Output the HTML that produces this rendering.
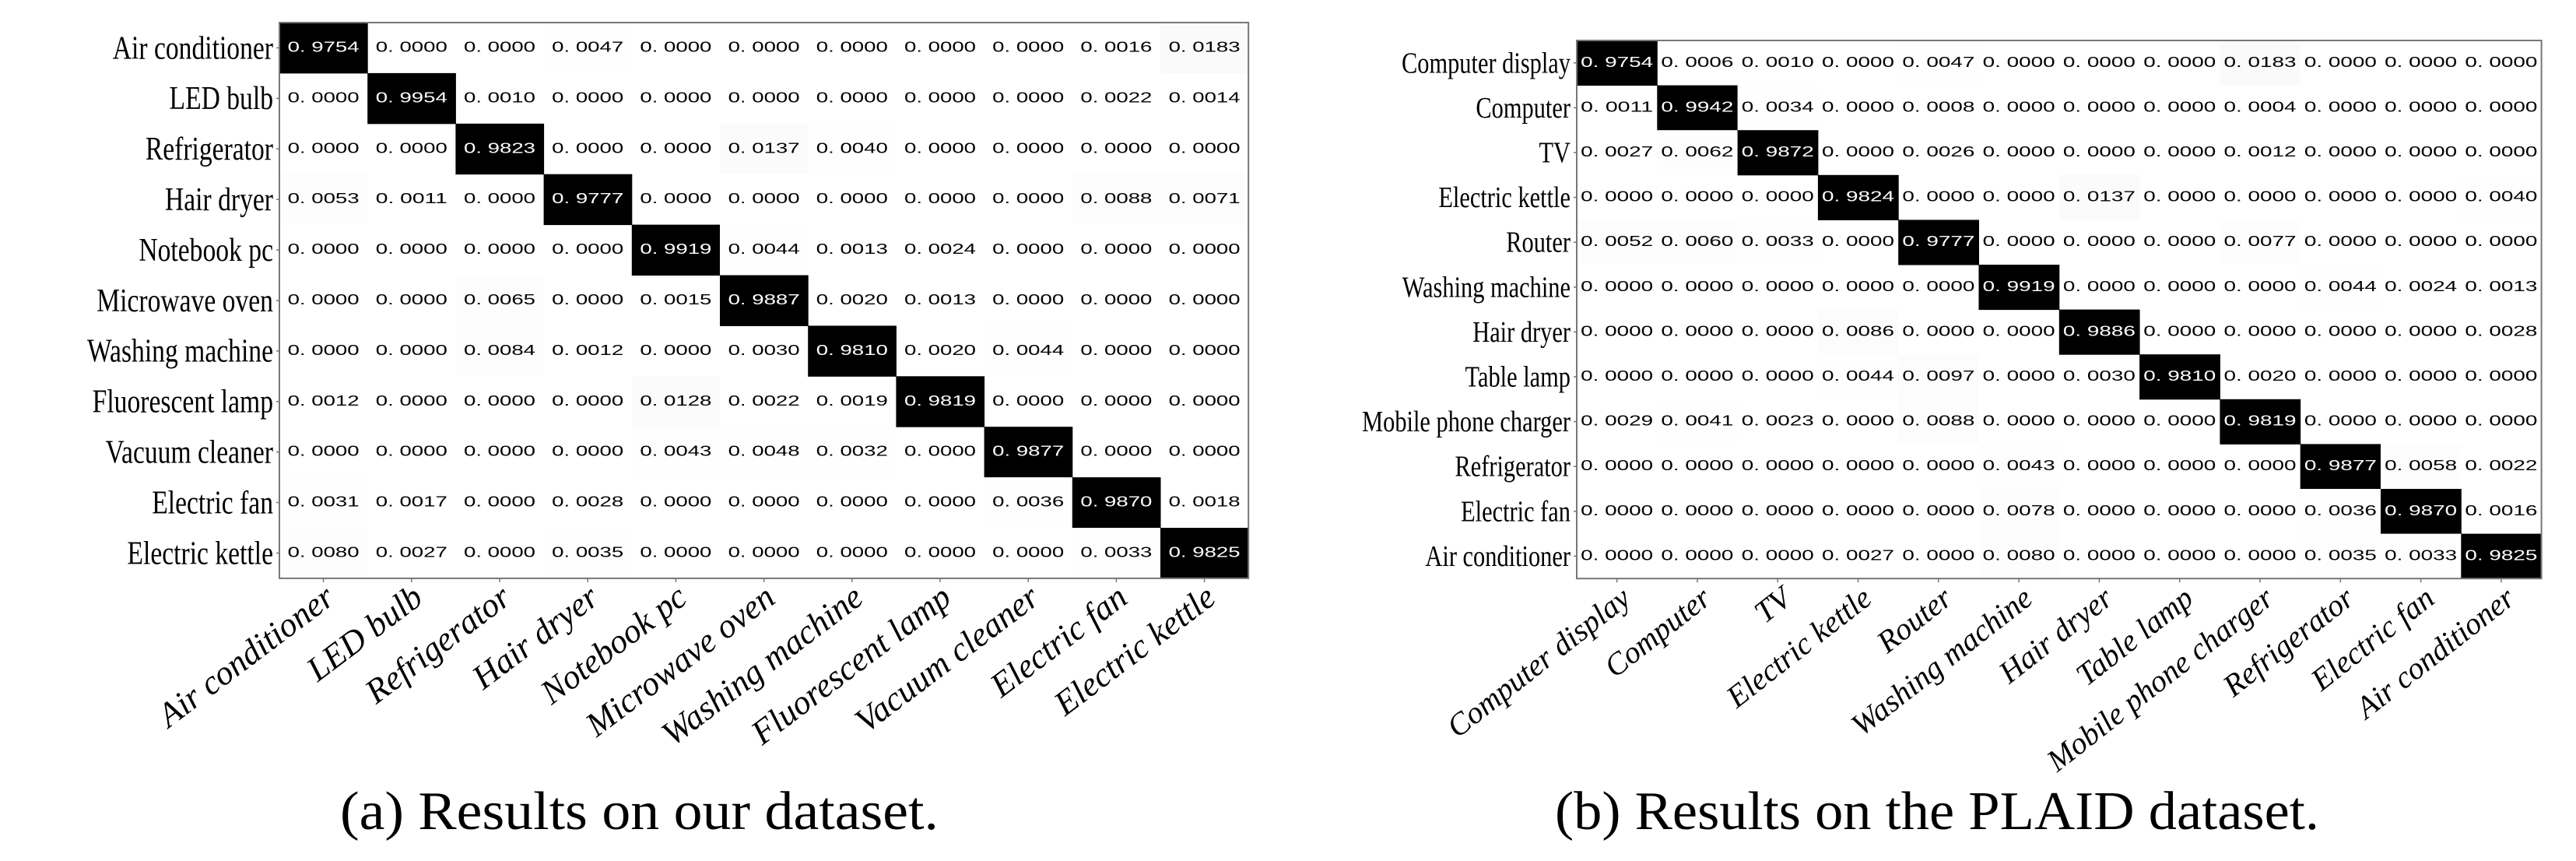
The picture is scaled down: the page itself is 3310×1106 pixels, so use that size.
<!DOCTYPE html>
<html><head><meta charset="utf-8"><style>
html,body{margin:0;padding:0;background:#fff;}
svg{display:block;}
</style></head><body>
<svg id="s" xmlns="http://www.w3.org/2000/svg" width="3310" height="1106" viewBox="0 0 3310 1106">
<rect width="3310" height="1106" fill="#fff"/>
<g id="g"></g>
<text x="437" y="1065" font-family="Liberation Serif, serif" font-size="70" textLength="769" lengthAdjust="spacingAndGlyphs">(a)  Results on our dataset.</text>
<text x="1998" y="1065" font-family="Liberation Serif, serif" font-size="70" textLength="982" lengthAdjust="spacingAndGlyphs">(b)  Results on the PLAID dataset.</text>
</svg>
<script>
var NS="http://www.w3.org/2000/svg";
var g=document.getElementById('g');
function el(t,a,txt){var e=document.createElementNS(NS,t);for(var k in a)e.setAttribute(k,a[k]);if(txt!=null)e.textContent=txt;g.appendChild(e);return e;}
function f(v){return "0. "+("0000"+Math.round(v*10000)).slice(-4);}
var L={x:359,y:29,w:113.2,h:64.9,labels:["Air conditioner","LED bulb","Refrigerator","Hair dryer","Notebook pc","Microwave oven","Washing machine","Fluorescent lamp","Vacuum cleaner","Electric fan","Electric kettle"],
d:[[.9754,0,0,.0047,0,0,0,0,0,.0016,.0183],
[0,.9954,.0010,0,0,0,0,0,0,.0022,.0014],
[0,0,.9823,0,0,.0137,.0040,0,0,0,0],
[.0053,.0011,0,.9777,0,0,0,0,0,.0088,.0071],
[0,0,0,0,.9919,.0044,.0013,.0024,0,0,0],
[0,0,.0065,0,.0015,.9887,.0020,.0013,0,0,0],
[0,0,.0084,.0012,0,.0030,.9810,.0020,.0044,0,0],
[.0012,0,0,0,.0128,.0022,.0019,.9819,0,0,0],
[0,0,0,0,.0043,.0048,.0032,0,.9877,0,0],
[.0031,.0017,0,.0028,0,0,0,0,.0036,.9870,.0018],
[.0080,.0027,0,.0035,0,0,0,0,0,.0033,.9825]],
fs:42,nf:18,nl:92,xf:44,ang:37,ax:17,ay:30};
var R={x:2026,y:52,w:103.3,h:57.6,labels:["Computer display","Computer","TV","Electric kettle","Router","Washing machine","Hair dryer","Table lamp","Mobile phone charger","Refrigerator","Electric fan","Air conditioner"],
d:[[.9754,.0006,.0010,0,.0047,0,0,0,.0183,0,0,0],
[.0011,.9942,.0034,0,.0008,0,0,0,.0004,0,0,0],
[.0027,.0062,.9872,0,.0026,0,0,0,.0012,0,0,0],
[0,0,0,.9824,0,0,.0137,0,0,0,0,.0040],
[.0052,.0060,.0033,0,.9777,0,0,0,.0077,0,0,0],
[0,0,0,0,0,.9919,0,0,0,.0044,.0024,.0013],
[0,0,0,.0086,0,0,.9886,0,0,0,0,.0028],
[0,0,0,.0044,.0097,0,.0030,.9810,.0020,0,0,0],
[.0029,.0041,.0023,0,.0088,0,0,0,.9819,0,0,0],
[0,0,0,0,0,.0043,0,0,0,.9877,.0058,.0022],
[0,0,0,0,0,.0078,0,0,0,.0036,.9870,.0016],
[0,0,0,.0027,0,.0080,0,0,0,.0035,.0033,.9825]],
fs:38,nf:18,nl:93,xf:40,ang:38,ax:20,ay:30};
function draw(M){
 var n=M.labels.length,W=M.w*n,H=M.h*n;
 for(var i=0;i<n;i++)for(var j=0;j<n;j++){
  var v=M.d[i][j],x=M.x+j*M.w,y=M.y+i*M.h;
  if(i==j){el('rect',{x:x,y:y,width:M.w+0.5,height:M.h+0.5,fill:'#000'});}
  else if(v>0.003){var c=Math.round(255-v*300);el('rect',{x:x,y:y,width:M.w,height:M.h,fill:'rgb('+c+','+c+','+c+')'});}
  el('text',{x:x+M.w/2,y:y+M.h/2+5,'text-anchor':'middle','font-family':'Liberation Sans, sans-serif','font-size':M.nf,textLength:M.nl,lengthAdjust:'spacingAndGlyphs',fill:(i==j?'#fff':'#000')},f(v));
 }
 el('rect',{x:M.x,y:M.y,width:W,height:H,fill:'none',stroke:'#777','stroke-width':2});
 for(var i=0;i<n;i++){
  var cy=M.y+(i+0.5)*M.h;
  el('line',{x1:M.x-4,y1:cy,x2:M.x,y2:cy,stroke:'#777','stroke-width':1.5});
  var t=el('text',{x:M.x-8,y:cy+M.fs*0.33,'text-anchor':'end','font-family':'Liberation Serif, serif','font-size':M.fs},M.labels[i]);
  var len=t.getComputedTextLength();
  t.setAttribute('textLength',len*0.8);t.setAttribute('lengthAdjust','spacingAndGlyphs');
  var cx=M.x+(i+0.5)*M.w,by=M.y+H;
  el('line',{x1:cx,y1:by,x2:cx,y2:by+5,stroke:'#777','stroke-width':1.5});
  var ax=cx+M.ax,ay=by+M.ay;
  el('text',{x:ax,y:ay,'text-anchor':'end','font-family':'Liberation Serif, serif','font-style':'italic','font-size':M.xf,transform:'rotate(-'+M.ang+' '+ax+' '+ay+')'},M.labels[i]);
 }
}
draw(L);draw(R);
</script>
</body></html>
